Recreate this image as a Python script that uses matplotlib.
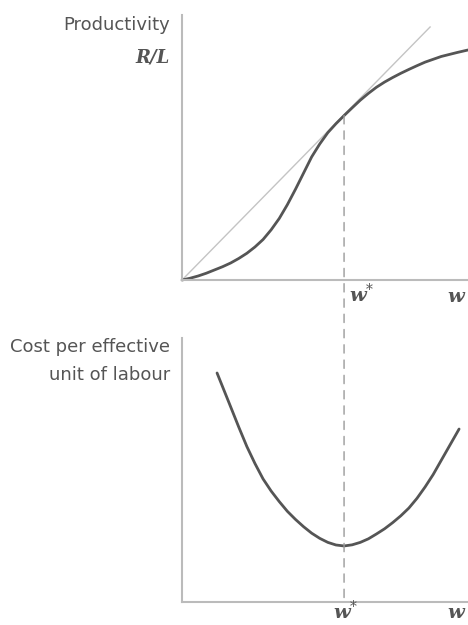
import matplotlib.pyplot as plt
from matplotlib.patches import ConnectionPatch

# wage levels (w* = 1) and productivity R/L along the effort curve
w_prod = [0.0, 0.05, 0.1, 0.15, 0.2, 0.25, 0.3, 0.35, 0.4, 0.45, 0.5, 0.55, 0.6,
          0.65, 0.7, 0.75, 0.8, 0.85, 0.9, 0.95, 1.0, 1.05, 1.1, 1.15, 1.2, 1.25,
          1.3, 1.35, 1.4, 1.45, 1.5, 1.6, 1.7, 1.765]
prod = [0.0, 0.011, 0.025, 0.042, 0.062, 0.082, 0.105, 0.133, 0.165, 0.204, 0.25,
        0.31, 0.38, 0.465, 0.56, 0.66, 0.76, 0.84, 0.91, 0.965, 1.015, 1.063,
        1.11, 1.152, 1.19, 1.222, 1.25, 1.276, 1.30, 1.323, 1.345, 1.38, 1.405,
        1.42]

# ray from the origin touching the curve at w*
ray_w = [0.0, 1.531]
ray_p = [0.0, 1.562]

# cost per effective unit of labour
w_cost = [0.216, 0.3, 0.35, 0.4, 0.45, 0.5, 0.55, 0.6, 0.65, 0.7, 0.75, 0.8,
          0.85, 0.9, 0.95, 1.0, 1.05, 1.1, 1.15, 1.2, 1.25, 1.3, 1.35, 1.4, 1.45,
          1.5, 1.55, 1.6, 1.71]
cost = [1.414, 1.205, 1.08, 0.96, 0.855, 0.76, 0.685, 0.62, 0.56, 0.51, 0.465,
        0.425, 0.393, 0.368, 0.352, 0.346, 0.353, 0.368, 0.39, 0.42, 0.452, 0.49,
        0.532, 0.58, 0.64, 0.71, 0.787, 0.875, 1.068]

w_star = 1.0
w_star_prod = 1.015

curve_col = "#555555"
axis_col = "#bbbbbb"
text_col = "#555555"

fig = plt.figure(figsize=(4.68, 6.25), dpi=100)
ax1 = fig.add_axes([0.389, 0.552, 0.611, 0.424])
ax2 = fig.add_axes([0.389, 0.0368, 0.611, 0.4224])

for ax in (ax1, ax2):
    for s in ("top", "right"):
        ax.spines[s].set_visible(False)
    for s in ("left", "bottom"):
        ax.spines[s].set_color(axis_col)
        ax.spines[s].set_linewidth(1.5)
    ax.set_xticks([])
    ax.set_yticks([])
    ax.set_xlim(0, 1.765)

ax1.set_ylim(0, 1.636)
ax2.set_ylim(0, 1.63)

ax1.plot(ray_w, ray_p, color="#c4c4c4", lw=1.0)
ax1.plot(w_prod, prod, color=curve_col, lw=2.0, solid_capstyle="round",
         solid_joinstyle="round", clip_on=False)
ax2.plot(w_cost, cost, color=curve_col, lw=2.0, solid_capstyle="round",
         solid_joinstyle="round")

# dashed line at w* running through both panels
con = ConnectionPatch(xyA=(w_star, w_star_prod), coordsA=ax1.transData,
                      xyB=(w_star, 0), coordsB=ax2.transData,
                      color="#9a9a9a", lw=1.0, linestyle=(0, (6, 5)))
fig.add_artist(con)

# axis titles
fig.text(170 / 468, 1 - 25 / 625, "Productivity", ha="right", va="center",
         fontsize=13, color=text_col, family="DejaVu Sans")
fig.text(170 / 468, 1 - 57 / 625, "R/L", ha="right", va="center", fontsize=13,
         color=text_col, family="DejaVu Serif", style="italic", weight="bold")
fig.text(170 / 468, 1 - 347 / 625, "Cost per effective", ha="right", va="center",
         fontsize=13, color=text_col, family="DejaVu Sans")
fig.text(170 / 468, 1 - 375 / 625, "unit of labour", ha="right", va="center",
         fontsize=13, color=text_col, family="DejaVu Sans")

wkw = dict(fontsize=14, color=text_col, math_fontfamily="dejavuserif",
           va="center")
fig.text(349 / 468, 1 - 294 / 625, r"$\mathbfit{w}^{*}$", ha="left", **wkw)
fig.text(466 / 468, 1 - 296 / 625, r"$\mathbfit{w}$", ha="right", **wkw)
fig.text(346 / 468, 1 - 611 / 625, r"$\mathbfit{w}^{*}$", ha="center", **wkw)
fig.text(466 / 468, 1 - 613 / 625, r"$\mathbfit{w}$", ha="right", **wkw)

fig.savefig("out.png", dpi=100)
